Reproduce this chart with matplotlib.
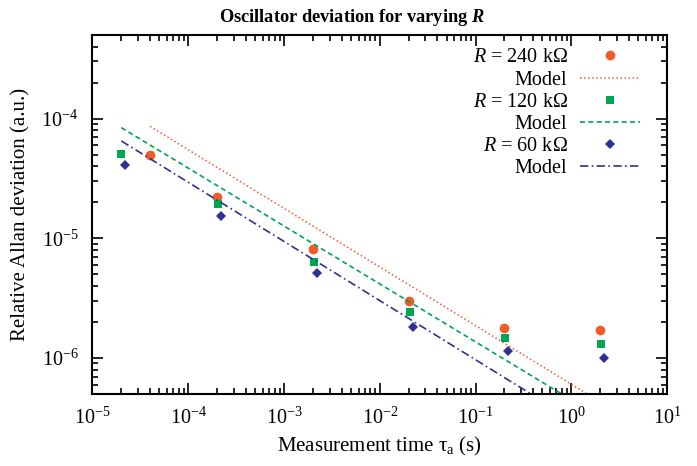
import numpy as np
import matplotlib
matplotlib.use("Agg")
import matplotlib.pyplot as plt

plt.rcParams['font.family'] = ['Liberation Serif', 'DejaVu Serif']
plt.rcParams['mathtext.fontset'] = 'custom'
plt.rcParams['mathtext.rm'] = 'Liberation Serif'
plt.rcParams['mathtext.it'] = 'Liberation Serif:italic'
plt.rcParams['mathtext.bf'] = 'Liberation Serif:bold'
plt.rcParams['mathtext.bfit'] = 'Liberation Serif:italic:bold'

# measured points
tau_240 = [4e-5, 2e-4, 2e-3, 2e-2, 0.2, 2.0]
dev_240 = [5.0e-5, 2.2e-5, 8.2e-6, 3.0e-6, 1.77e-6, 1.72e-6]
tau_120 = [2e-5, 2.05e-4, 2.05e-3, 2.05e-2, 0.205, 2.05]
dev_120 = [5.1e-5, 1.93e-5, 6.3e-6, 2.43e-6, 1.48e-6, 1.31e-6]
tau_60 = [2.2e-5, 2.2e-4, 2.2e-3, 2.2e-2, 0.22, 2.2]
dev_60 = [4.1e-5, 1.53e-5, 5.1e-6, 1.8e-6, 1.15e-6, 1.0e-6]

mtau_240 = [4e-5, 2.0]
mdev_240 = [8.6e-5, 4.3e-7]
mtau_120 = [2e-5, 2.0]
mdev_120 = [8.4e-5, 3.2e-7]
mtau_60 = [2e-5, 1.0]
mdev_60 = [6.5e-5, 3.1e-7]

c_or = '#f15a29'
c_gr = '#00a651'
c_bl = '#2e3192'

fig = plt.figure(figsize=(6.97, 4.66), dpi=100)
ax = fig.add_axes([0.1327, 0.1545, 0.8243, 0.7706])

ax.plot(tau_240, dev_240, 'o', color=c_or, ms=7, mew=0, label=r'$R$ = 240 kΩ')
ax.plot(mtau_240, mdev_240, ':', color=c_or, lw=1.1, label='Model')
ax.plot(tau_120, dev_120, 's', color=c_gr, ms=6.2, mew=0, label=r'$R$ = 120 kΩ')
ax.plot(mtau_120, mdev_120, '--', color=c_gr, lw=1.2, dashes=(3, 2), label='Model')
ax.plot(tau_60, dev_60, 'D', color=c_bl, ms=5, mew=0, label=r'$R$ = 60 kΩ')
ax.plot(mtau_60, mdev_60, '-.', color=c_bl, lw=1.2, dashes=(5, 2, 1, 2), label='Model')

ax.set_xscale('log')
ax.set_yscale('log')
ax.set_xlim(1e-5, 10)
ax.set_ylim(5e-7, 5e-4)

ax.tick_params(which='both', direction='in', top=True, right=True, labelsize=14.5, width=1.2)
ax.tick_params(which='major', length=8, pad=10)
ax.tick_params(which='minor', length=4)
for s in ax.spines.values():
    s.set_linewidth(1.5)

ax.set_xlabel(r'Measurement time τ$_{\mathrm{a}}$ (s)', fontsize=15, labelpad=4)
ax.set_ylabel('Relative Allan deviation (a.u.)', fontsize=15, labelpad=8)
fig.text(0.505, 0.962, r'Oscillator deviation for varying $\mathbfit{R}$',
         fontsize=13.2, fontweight='bold', ha='center', va='center')

ax.legend(loc='upper right', bbox_to_anchor=(0.967, 0.985), frameon=False,
          markerfirst=False, fontsize=14.5, handlelength=3.0, labelspacing=0.15,
          borderaxespad=0, handletextpad=0.6)

fig.savefig('out.png', dpi=100)
